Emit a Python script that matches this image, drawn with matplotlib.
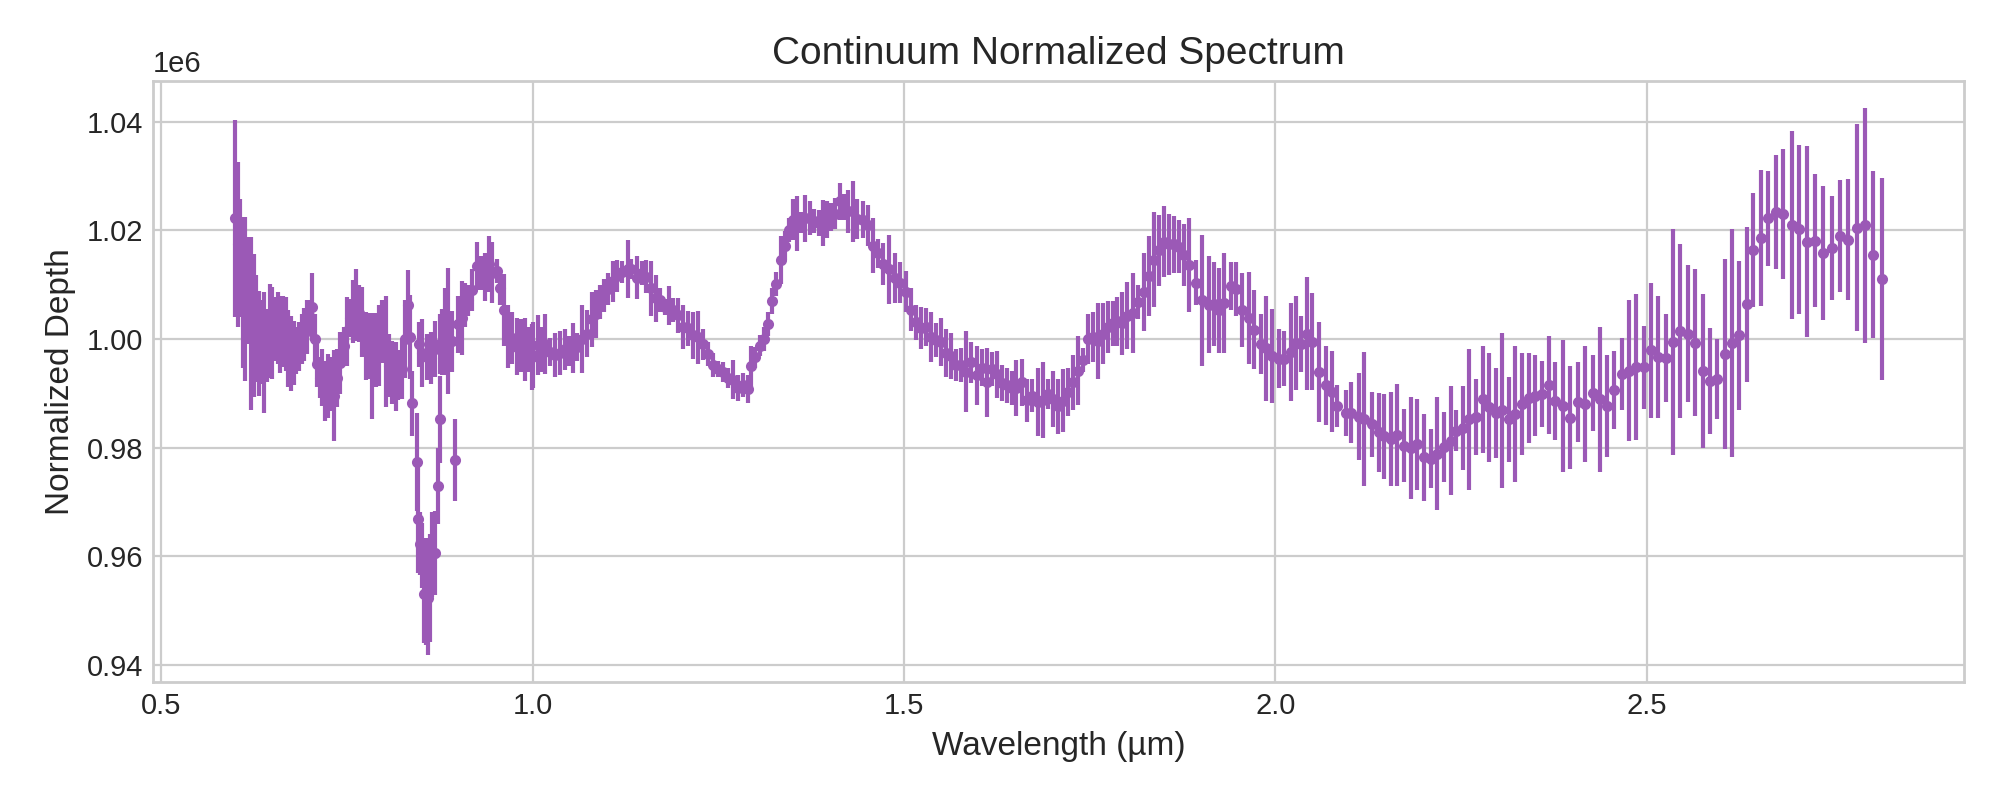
import matplotlib
matplotlib.use("Agg")
import matplotlib.pyplot as plt
import numpy as np

# Spectrum in segments: wavelength (um), normalized depth, 1-sigma error

# 0.60 - 0.73 um
wl_a = [0.5997, 0.6033, 0.6064, 0.6096, 0.6131, 0.6167, 0.6208, 0.6244, 0.6280, 0.6315,
        0.6351, 0.6387, 0.6423, 0.6459, 0.6495, 0.6535, 0.6566, 0.6602, 0.6638, 0.6674,
        0.6710, 0.6746, 0.6781, 0.6817, 0.6853, 0.6889, 0.6925, 0.6961, 0.6997, 0.7028,
        0.7064, 0.7095, 0.7131, 0.7167, 0.7203, 0.7239, 0.7275]
depth_a = [1.0222, 1.0174, 1.0149, 1.0086, 1.0074, 1.0089, 1.0029, 1.0025, 1.0019, 0.9992,
           0.9994, 0.9975, 0.9988, 1.0015, 1.0011, 1.0019, 1.0020, 1.0009, 1.0014, 1.0009,
           0.9982, 0.9974, 0.9975, 0.9979, 0.9986, 1.0000, 1.0009, 1.0022, 1.0040, 1.0059,
           1.0000, 0.9954, 0.9929, 0.9929, 0.9905, 0.9914, 0.9917]
err_a = [0.0182, 0.0152, 0.0109, 0.0139, 0.0151, 0.0099, 0.0159, 0.0132, 0.0099, 0.0097,
         0.0077, 0.0111, 0.0068, 0.0086, 0.0085, 0.0059, 0.0066, 0.0071, 0.0066, 0.0068,
         0.0071, 0.0069, 0.0059, 0.0043, 0.0045, 0.0046, 0.0049, 0.0049, 0.0031, 0.0062,
         0.0046, 0.0043, 0.0037, 0.0052, 0.0055, 0.0059, 0.0049]

# 0.73 - 0.88 um
wl_b = [0.7319, 0.7364, 0.7409, 0.7454, 0.7499, 0.7543, 0.7588, 0.7620, 0.7664, 0.7709,
        0.7754, 0.7799, 0.7844, 0.7889, 0.7933, 0.7978, 0.8023, 0.8068, 0.8113, 0.8158,
        0.8193, 0.8247, 0.8283, 0.8319, 0.8355, 0.8471, 0.8516, 0.8575, 0.8633, 0.8687,
        0.8754]
depth_b = [0.9896, 0.9928, 0.9956, 0.9987, 1.0014, 1.0039, 1.0050, 1.0063, 1.0047, 1.0031,
           0.9987, 0.9987, 0.9950, 0.9979, 0.9988, 1.0013, 0.9977, 0.9951, 0.9939, 0.9931,
           0.9933, 0.9944, 1.0000, 1.0062, 1.0004, 0.9990, 0.9974, 0.9967, 0.9965, 0.9982,
           0.9991]
err_b = [0.0083, 0.0054, 0.0057, 0.0035, 0.0063, 0.0035, 0.0058, 0.0066, 0.0052, 0.0065,
         0.0063, 0.0060, 0.0097, 0.0068, 0.0074, 0.0058, 0.0103, 0.0058, 0.0058, 0.0063,
         0.0046, 0.0054, 0.0071, 0.0065, 0.0077, 0.0042, 0.0063, 0.0043, 0.0048, 0.0052,
         0.0055]

# the deep feature near 0.85 um
wl_dip = [0.8382, 0.8440, 0.8462, 0.8490, 0.8517, 0.8543, 0.8570, 0.8597, 0.8624, 0.8651,
          0.8687, 0.8731, 0.8754, 0.8955]
depth_dip = [0.9882, 0.9773, 0.9669, 0.9623, 0.9602, 0.9530, 0.9535, 0.9523, 0.9542, 0.9603,
             0.9606, 0.9730, 0.9852, 0.9777]
err_dip = [0.0060, 0.0090, 0.0100, 0.0058, 0.0060, 0.0090, 0.0099, 0.0104, 0.0099, 0.0078,
           0.0077, 0.0070, 0.0080, 0.0075]

# 0.88 - 1.0 um
wl_c = [0.8776, 0.8821, 0.8866, 0.8911, 0.9000, 0.9045, 0.9090, 0.9135, 0.9189, 0.9247,
        0.9305, 0.9359, 0.9413, 0.9458, 0.9516, 0.9561, 0.9619, 0.9673, 0.9727, 0.9785,
        0.9843, 0.9897, 0.9942, 0.9987]
depth_c = [0.9995, 1.0013, 1.0015, 0.9996, 1.0027, 1.0039, 1.0063, 1.0071, 1.0090, 1.0134,
           1.0121, 1.0114, 1.0138, 1.0122, 1.0126, 1.0094, 1.0054, 1.0005, 1.0002, 0.9986,
           0.9988, 0.9981, 0.9981, 0.9967]
err_c = [0.0061, 0.0080, 0.0116, 0.0056, 0.0053, 0.0068, 0.0041, 0.0029, 0.0038, 0.0044,
         0.0031, 0.0044, 0.0051, 0.0056, 0.0022, 0.0031, 0.0066, 0.0058, 0.0048, 0.0053,
         0.0048, 0.0058, 0.0041, 0.0061]

# 1.0 - 1.44 um
wl_d = [1.0009, 1.0067, 1.0121, 1.0166, 1.0233, 1.0300, 1.0368, 1.0435, 1.0489, 1.0542,
        1.0601, 1.0668, 1.0726, 1.0793, 1.0852, 1.0905, 1.0964, 1.1018, 1.1076, 1.1134,
        1.1197, 1.1278, 1.1331, 1.1399, 1.1466, 1.1533, 1.1600, 1.1659, 1.1721, 1.1780,
        1.1833, 1.1892, 1.1959, 1.2026, 1.2093, 1.2161, 1.2228, 1.2295, 1.2362, 1.2430,
        1.2497, 1.2564, 1.2631, 1.2699, 1.2766, 1.2833, 1.2900, 1.2945, 1.2999, 1.3057,
        1.3111, 1.3169, 1.3223, 1.3281, 1.3340, 1.3393, 1.3447, 1.3506, 1.3559, 1.3618,
        1.3671, 1.3730, 1.3788, 1.3851, 1.3909, 1.3967, 1.4021, 1.4075, 1.4133, 1.4191,
        1.4245, 1.4312, 1.4371]
depth_d = [0.9971, 0.9989, 0.9981, 0.9991, 0.9976, 0.9971, 0.9974, 0.9981, 0.9978, 0.9983,
           0.9986, 1.0000, 1.0010, 1.0036, 1.0046, 1.0068, 1.0080, 1.0092, 1.0106, 1.0116,
           1.0124, 1.0129, 1.0129, 1.0113, 1.0122, 1.0115, 1.0093, 1.0075, 1.0071, 1.0059,
           1.0062, 1.0054, 1.0044, 1.0022, 1.0020, 1.0007, 1.0003, 0.9990, 0.9973, 0.9952,
           0.9945, 0.9939, 0.9928, 0.9925, 0.9910, 0.9915, 0.9908, 0.9950, 0.9966, 0.9988,
           1.0000, 1.0027, 1.0070, 1.0102, 1.0145, 1.0172, 1.0201, 1.0220, 1.0213, 1.0214,
           1.0222, 1.0223, 1.0218, 1.0213, 1.0213, 1.0220, 1.0225, 1.0231, 1.0254, 1.0243,
           1.0235, 1.0235, 1.0221]
err_d = [0.0061, 0.0055, 0.0041, 0.0055, 0.0026, 0.0041, 0.0041, 0.0038, 0.0027, 0.0046,
         0.0026, 0.0063, 0.0043, 0.0051, 0.0044, 0.0032, 0.0031, 0.0029, 0.0037, 0.0029,
         0.0020, 0.0053, 0.0019, 0.0040, 0.0022, 0.0031, 0.0050, 0.0043, 0.0022, 0.0014,
         0.0036, 0.0022, 0.0032, 0.0041, 0.0032, 0.0043, 0.0049, 0.0029, 0.0022, 0.0022,
         0.0015, 0.0019, 0.0019, 0.0036, 0.0024, 0.0022, 0.0026, 0.0038, 0.0019, 0.0020,
         0.0022, 0.0022, 0.0024, 0.0022, 0.0044, 0.0027, 0.0022, 0.0038, 0.0051, 0.0019,
         0.0043, 0.0031, 0.0022, 0.0024, 0.0042, 0.0034, 0.0026, 0.0029, 0.0034, 0.0024,
         0.0039, 0.0056, 0.0036]

# 1.44 - 1.90 um
wl_e = [1.4447, 1.4514, 1.4581, 1.4649, 1.4716, 1.4805, 1.4873, 1.4953, 1.5030, 1.5097,
        1.5164, 1.5231, 1.5299, 1.5366, 1.5433, 1.5500, 1.5568, 1.5635, 1.5702, 1.5769,
        1.5837, 1.5904, 1.5980, 1.6047, 1.6119, 1.6186, 1.6253, 1.6321, 1.6388, 1.6455,
        1.6513, 1.6590, 1.6657, 1.6724, 1.6800, 1.6867, 1.6935, 1.7002, 1.7069, 1.7136,
        1.7204, 1.7271, 1.7338, 1.7405, 1.7473, 1.7540, 1.7607, 1.7674, 1.7742, 1.7809,
        1.7867, 1.7934, 1.8002, 1.8078, 1.8145, 1.8235, 1.8302, 1.8369, 1.8437, 1.8504,
        1.8571, 1.8638, 1.8705, 1.8773, 1.8840, 1.8930]
depth_e = [1.0220, 1.0209, 1.0172, 1.0158, 1.0138, 1.0128, 1.0112, 1.0104, 1.0087, 1.0054,
           1.0031, 1.0020, 1.0023, 1.0003, 0.9998, 0.9995, 0.9974, 0.9969, 0.9952, 0.9952,
           0.9940, 0.9957, 0.9933, 0.9947, 0.9920, 0.9945, 0.9935, 0.9919, 0.9915, 0.9910,
           0.9910, 0.9920, 0.9887, 0.9896, 0.9884, 0.9887, 0.9899, 0.9890, 0.9876, 0.9886,
           0.9902, 0.9920, 0.9942, 0.9962, 1.0000, 1.0003, 0.9996, 1.0010, 1.0022, 1.0029,
           1.0033, 1.0029, 1.0043, 1.0048, 1.0068, 1.0087, 1.0116, 1.0146, 1.0163, 1.0179,
           1.0174, 1.0174, 1.0170, 1.0154, 1.0136, 1.0104]
err_e = [0.0034, 0.0037, 0.0051, 0.0027, 0.0038, 0.0064, 0.0046, 0.0038, 0.0038, 0.0039,
         0.0032, 0.0039, 0.0035, 0.0046, 0.0031, 0.0044, 0.0044, 0.0043, 0.0029, 0.0032,
         0.0074, 0.0038, 0.0055, 0.0034, 0.0063, 0.0032, 0.0043, 0.0033, 0.0032, 0.0031,
         0.0051, 0.0044, 0.0039, 0.0031, 0.0063, 0.0070, 0.0027, 0.0052, 0.0051, 0.0058,
         0.0044, 0.0051, 0.0063, 0.0022, 0.0046, 0.0046, 0.0070, 0.0056, 0.0048, 0.0041,
         0.0045, 0.0058, 0.0062, 0.0073, 0.0032, 0.0072, 0.0073, 0.0087, 0.0066, 0.0065,
         0.0056, 0.0053, 0.0049, 0.0057, 0.0087, 0.0041]

# 1.90 - 2.33 um
wl_f = [1.9019, 1.9109, 1.9176, 1.9243, 1.9311, 1.9400, 1.9467, 1.9557, 1.9647, 1.9714,
        1.9804, 1.9871, 1.9961, 2.0050, 2.0117, 2.0207, 2.0274, 2.0342, 2.0431, 2.0498,
        2.0588, 2.0678, 2.0767, 2.0835, 2.0947, 2.1014, 2.1126, 2.1193, 2.1305, 2.1395,
        2.1462, 2.1552, 2.1642, 2.1731, 2.1821, 2.1911, 2.2000, 2.2090, 2.2180, 2.2269,
        2.2359, 2.2426, 2.2529, 2.2605, 2.2704, 2.2798, 2.2883, 2.2973, 2.3054, 2.3143,
        2.3233]
depth_f = [1.0071, 1.0063, 1.0065, 1.0053, 1.0066, 1.0097, 1.0092, 1.0053, 1.0039, 1.0017,
           0.9991, 0.9983, 0.9969, 0.9964, 0.9964, 0.9976, 0.9993, 0.9991, 1.0010, 0.9995,
           0.9940, 0.9915, 0.9903, 0.9877, 0.9864, 0.9864, 0.9857, 0.9853, 0.9843, 0.9828,
           0.9821, 0.9816, 0.9823, 0.9804, 0.9799, 0.9806, 0.9782, 0.9780, 0.9789, 0.9801,
           0.9813, 0.9831, 0.9836, 0.9852, 0.9857, 0.9889, 0.9874, 0.9864, 0.9869, 0.9852,
           0.9862]
err_f = [0.0121, 0.0089, 0.0077, 0.0078, 0.0092, 0.0044, 0.0049, 0.0068, 0.0085, 0.0073,
         0.0055, 0.0097, 0.0087, 0.0055, 0.0051, 0.0090, 0.0087, 0.0051, 0.0104, 0.0089,
         0.0092, 0.0073, 0.0075, 0.0039, 0.0043, 0.0056, 0.0080, 0.0124, 0.0060, 0.0072,
         0.0078, 0.0087, 0.0094, 0.0068, 0.0094, 0.0083, 0.0080, 0.0055, 0.0104, 0.0065,
         0.0101, 0.0038, 0.0077, 0.0129, 0.0070, 0.0099, 0.0101, 0.0083, 0.0143, 0.0078,
         0.0126]

# 2.33 - 2.82 um
wl_g = [2.3323, 2.3412, 2.3502, 2.3591, 2.3681, 2.3771, 2.3874, 2.3973, 2.4071, 2.4174,
        2.4277, 2.4376, 2.4466, 2.4564, 2.4667, 2.4757, 2.4856, 2.4959, 2.5057, 2.5151,
        2.5259, 2.5353, 2.5452, 2.5555, 2.5645, 2.5752, 2.5855, 2.5945, 2.6048, 2.6147,
        2.6245, 2.6348, 2.6438, 2.6541, 2.6640, 2.6738, 2.6841, 2.6954, 2.7057, 2.7164,
        2.7267, 2.7379, 2.7492, 2.7604, 2.7716, 2.7828, 2.7940, 2.8043, 2.8164]
depth_g = [0.9881, 0.9891, 0.9896, 0.9899, 0.9915, 0.9886, 0.9877, 0.9855, 0.9884, 0.9881,
           0.9901, 0.9889, 0.9877, 0.9906, 0.9935, 0.9942, 0.9948, 0.9948, 0.9979, 0.9967,
           0.9965, 0.9995, 1.0015, 1.0010, 0.9993, 0.9941, 0.9923, 0.9926, 0.9972, 0.9992,
           1.0007, 1.0064, 1.0164, 1.0186, 1.0222, 1.0233, 1.0230, 1.0209, 1.0202, 1.0179,
           1.0181, 1.0158, 1.0168, 1.0190, 1.0183, 1.0205, 1.0209, 1.0155, 1.0111]
err_g = [0.0094, 0.0083, 0.0075, 0.0061, 0.0090, 0.0072, 0.0121, 0.0095, 0.0073, 0.0107,
         0.0070, 0.0133, 0.0094, 0.0072, 0.0066, 0.0129, 0.0134, 0.0076, 0.0124, 0.0112,
         0.0081, 0.0208, 0.0160, 0.0126, 0.0135, 0.0141, 0.0097, 0.0074, 0.0175, 0.0210,
         0.0137, 0.0143, 0.0105, 0.0125, 0.0087, 0.0105, 0.0119, 0.0173, 0.0156, 0.0176,
         0.0122, 0.0123, 0.0096, 0.0103, 0.0112, 0.0190, 0.0216, 0.0154, 0.0186]

wavelength = np.concatenate([wl_a, wl_b, wl_dip, wl_c, wl_d, wl_e, wl_f, wl_g])
depth = np.concatenate([depth_a, depth_b, depth_dip, depth_c, depth_d, depth_e, depth_f, depth_g]) * 1e6
error = np.concatenate([err_a, err_b, err_dip, err_c, err_d, err_e, err_f, err_g]) * 1e6

plt.style.use('seaborn-v0_8-whitegrid')
plt.rcParams['xtick.labelsize'] = 10.5
plt.rcParams['ytick.labelsize'] = 10.5
fig, ax = plt.subplots(figsize=(10, 4), dpi=200)

ax.errorbar(wavelength, depth, yerr=error, fmt='.', color='#9b59b6',
            ecolor='#9b59b6', elinewidth=1.5, markersize=6)

ax.set_title('Continuum Normalized Spectrum', fontsize=14)
ax.set_xlabel('Wavelength (µm)', fontsize=12)
ax.set_ylabel('Normalized Depth', fontsize=12)

fig.subplots_adjust(left=0.0765, right=0.982, top=0.899, bottom=0.1475)
fig.savefig('out.png', dpi=200)
